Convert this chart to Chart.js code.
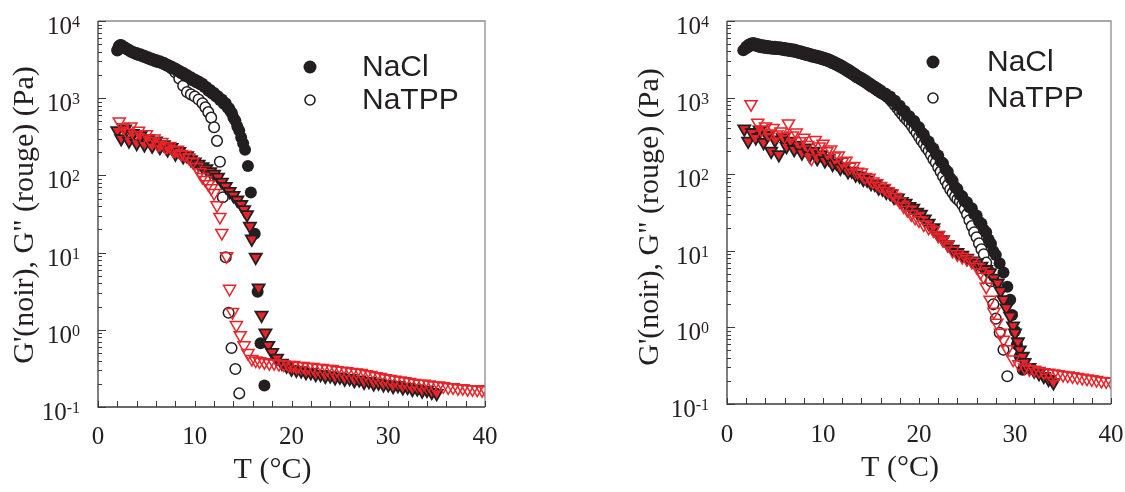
<!DOCTYPE html>
<html><head><meta charset="utf-8">
<script src="https://cdn.jsdelivr.net/npm/chart.js@4.4.1/dist/chart.umd.min.js"></script>
<style>
html,body{margin:0;padding:0;background:#fff;}
#wrap{position:relative;width:1125px;height:492px;overflow:hidden;}
#c1{position:absolute;left:0;top:0;}
#c2{position:absolute;left:560px;top:0;}
</style></head><body>
<div id="wrap"><canvas id="c1" width="560" height="492"></canvas><canvas id="c2" width="565" height="492"></canvas></div>
<script>
// ---------- tick labels ----------
const xTickLabels = [0, 10, 20, 30, 40];
const yTickExps = ['-1', '0', '1', '2', '3', '4'];
const legendLabels = ['NaCl', 'NaTPP'];
const xTitle = 'T (°C)';
const yTitle = 'G\'(noir), G" (rouge) (Pa)';

// ---------- LEFT PANEL ----------
const leftNaClGpT = [2.0,2.15,2.3,2.45,2.6,2.8,3.0,3.2,3.4,3.6,3.8,4.0,4.2,4.4,4.6,4.8,5.0,5.2,5.4,5.6,5.8,6.0,6.2,6.4,6.6,6.8,7.0,7.2,7.4,7.6,7.8,8.0,8.2,8.4,8.6,8.8,9.0,9.2,9.4,9.6,9.8,10.0,10.2,10.4,10.6,10.8,11.0,11.2,11.4,11.6,11.8,12.0,12.2,12.4,12.6,12.8,13.0,13.2,13.4,13.55,13.7,13.85,14.0,14.2,14.4,14.6,14.8,15.0,15.2,15.5,15.8,16.2,16.5,16.8,17.2];
const leftNaClGp = [4200,4700,4900,4850,4600,4550,4300,4250,4000,4000,3800,3850,3650,3700,3500,3550,3350,3400,3200,3250,3050,3120,2950,3000,2850,2880,2700,2720,2550,2570,2400,2420,2250,2270,2100,2130,1950,2000,1850,1870,1700,1750,1600,1640,1500,1540,1400,1400,1250,1280,1150,1170,1050,1060,950,960,850,860,750,740,680,640,560,510,430,380,310,260,215,132,60,17.5,3.1,0.67,0.19];

const leftNaTPPGpT = [2.0,2.4,2.8,3.2,3.6,4.0,4.4,4.8,5.2,5.6,6.0,6.4,6.8,7.2,7.6,8.0,8.4,8.8,9.2,9.6,10.0,10.4,10.8,11.1,11.4,11.7,12.0,12.3,12.6,12.9,13.2,13.5,13.8,14.2,14.6];
const leftNaTPPGp = [4150,4750,4400,4150,3900,3700,3580,3420,3280,3120,3000,2900,2780,2620,2420,2150,1800,1450,1200,1120,1050,960,860,760,660,560,420,280,150,52,8.7,1.66,0.58,0.31,0.15];

const leftNaClGppT = [2.0,2.4,2.8,3.2,3.6,4.0,4.4,4.8,5.2,5.6,6.0,6.4,6.8,7.2,7.6,8.0,8.4,8.8,9.2,9.6,10.0,10.4,10.8,11.2,11.6,12.0,12.4,12.8,13.2,13.6,14.0,14.4,14.8,15.1,15.4,15.7,15.9,16.3,16.6,16.9,17.3,17.6,18.0,18.5,19.0,19.5,20.0,20.5,21.0,21.5,22.0,22.5,23.0,23.5,24.0,24.5,25.0,25.5,26.0,26.5,27.0,27.5,28.0,28.5,29.0,29.5,30.0,30.5,31.0,31.5,32.0,32.5,33.0,33.5,34.0,34.5,35.0];
const leftNaClGpp = [380,300,400,280,350,260,330,250,300,240,280,230,250,215,230,190,205,175,180,160,150,140,130,122,112,104,95,82,72,62,55,48,42,36,31,22,15,8.7,3.5,1.55,0.91,0.63,0.51,0.43,0.37,0.34,0.31,0.30,0.295,0.28,0.28,0.265,0.265,0.25,0.255,0.24,0.245,0.23,0.235,0.22,0.225,0.21,0.215,0.2,0.205,0.195,0.195,0.185,0.19,0.178,0.18,0.17,0.172,0.162,0.165,0.155,0.15];

const leftNaTPPGppT = [2.2,2.6,3.0,3.4,3.8,4.2,4.6,5.0,5.4,5.8,6.2,6.6,7.0,7.4,7.8,8.2,8.6,9.0,9.4,9.8,10.2,10.5,10.8,11.1,11.4,11.7,12.0,12.3,12.6,12.8,13.3,13.6,13.9,14.3,14.7,15.1,15.5,15.9,16.3,16.7,17.2,17.7,18.2,18.7,19.2,19.7,20.2,20.7,21.2,21.7,22.2,22.7,23.2,23.7,24.2,24.7,25.2,25.7,26.2,26.7,27.2,27.7,28.2,28.7,29.2,29.7,30.2,30.7,31.2,31.7,32.2,32.7,33.2,33.7,34.2,34.7,35.2,35.7,36.2,36.7,37.2,37.7,38.2,38.7,39.2,39.7,40.0];
const leftNaTPPGpp = [500,420,360,430,330,380,300,340,280,300,250,270,230,240,210,215,190,185,170,150,128,110,95,87,77,68,59,41,29,18,9.0,3.4,1.7,1.15,0.85,0.63,0.5,0.42,0.40,0.39,0.38,0.37,0.37,0.36,0.355,0.35,0.35,0.34,0.34,0.33,0.33,0.32,0.32,0.31,0.31,0.30,0.295,0.29,0.285,0.28,0.275,0.265,0.26,0.25,0.245,0.235,0.23,0.225,0.22,0.215,0.21,0.205,0.2,0.2,0.195,0.19,0.19,0.185,0.18,0.18,0.175,0.175,0.17,0.17,0.168,0.165,0.17];

// ---------- RIGHT PANEL ----------
const rightNaClGpT = [1.7,2.0,2.25,2.5,2.75,3.0,3.25,3.5,3.75,4.0,4.25,4.5,4.75,5.0,5.25,5.5,5.75,6.0,6.25,6.5,6.75,7.0,7.25,7.5,7.75,8.0,8.25,8.5,8.75,9.0,9.25,9.5,9.75,10.0,10.25,10.5,10.75,11.0,11.25,11.5,11.75,12.0,12.25,12.5,12.75,13.0,13.25,13.5,13.75,14.0,14.25,14.5,14.75,15.0,15.25,15.5,15.75,16.0,16.25,16.5,16.75,17.0,17.25,17.5,17.75,18.0,18.25,18.5,18.75,19.0,19.25,19.5,19.75,20.0,20.25,20.5,20.75,21.0,21.25,21.5,21.75,22.0,22.25,22.5,22.75,23.0,23.25,23.5,23.75,24.0,24.25,24.5,24.75,25.0,25.25,25.5,25.75,26.0,26.25,26.5,26.75,27.0,27.25,27.5,27.75,28.0,28.4,28.8,29.2,29.5,29.7,30.0,30.2,30.5,30.8];
const rightNaClGp = [4150,4600,4600,5100,4850,5050,4650,4850,4500,4750,4400,4650,4350,4600,4300,4550,4200,4450,4120,4330,4020,4230,3900,4070,3750,3920,3600,3760,3460,3610,3350,3500,3220,3350,3080,3190,2910,2990,2720,2780,2520,2580,2330,2370,2130,2160,1940,1960,1770,1800,1620,1650,1470,1490,1340,1360,1220,1240,1110,1130,1020,1030,910,910,795,785,680,670,580,570,500,495,425,410,350,330,280,268,228,216,184,175,147,139,116,108,89,82,68,64,54,51.5,44.5,43,37,36,30,29,24,22.7,18.9,17.5,14,12.4,9.9,8.8,6.9,5.2,3.4,2.3,1.45,0.9,0.6,0.42,0.28];

const rightNaTPPGpT = [2.0,2.25,2.5,2.75,3.0,3.25,3.5,3.75,4.0,4.25,4.5,4.75,5.0,5.25,5.5,5.75,6.0,6.25,6.5,6.75,7.0,7.25,7.5,7.75,8.0,8.25,8.5,8.75,9.0,9.25,9.5,9.75,10.0,10.25,10.5,10.75,11.0,11.25,11.5,11.75,12.0,12.25,12.5,12.75,13.0,13.25,13.5,13.75,14.0,14.25,14.5,14.75,15.0,15.25,15.5,15.75,16.0,16.25,16.5,16.75,17.0,17.25,17.5,17.75,18.0,18.25,18.5,18.75,19.0,19.25,19.5,19.75,20.0,20.25,20.5,20.75,21.0,21.25,21.5,21.75,22.0,22.25,22.5,22.75,23.0,23.25,23.5,23.75,24.0,24.25,24.5,24.75,25.0,25.25,25.5,25.75,26.0,26.25,26.5,26.75,27.0,27.25,27.5,27.75,28.0,28.4,28.8,29.2];
const rightNaTPPGp = [4400,4900,4800,5150,4750,4950,4560,4800,4460,4700,4370,4610,4320,4550,4270,4480,4170,4380,4070,4270,3980,4140,3830,3990,3690,3830,3540,3680,3400,3550,3300,3420,3150,3270,3010,3090,2810,2880,2620,2680,2430,2470,2230,2270,2040,2060,1840,1870,1700,1720,1550,1560,1400,1420,1280,1290,1160,1130,1070,1010,940,870,795,725,660,600,550,510,470,425,385,345,308,275,250,222,202,178,157,142,123,108,94,82,72,63,57,51,47,44,40,35,30,25,21,17.5,15,12.5,10.5,9.0,7.0,5.5,4.0,2.0,1.3,0.85,0.51,0.23];

const rightNaClGppT = [1.8,2.2,2.6,3.0,3.4,3.8,4.2,4.6,5.0,5.4,5.8,6.2,6.6,7.0,7.4,7.8,8.2,8.6,9.0,9.4,9.8,10.2,10.6,11.0,11.4,11.8,12.2,12.6,13.0,13.4,13.8,14.2,14.6,15.0,15.4,15.8,16.2,16.6,17.0,17.4,17.8,18.2,18.6,19.0,19.4,19.8,20.2,20.6,21.0,21.5,22.0,22.5,23.0,23.5,24.0,24.5,25.0,25.5,26.0,26.5,27.0,27.4,27.8,28.2,28.5,28.8,29.1,29.5,29.8,30.0,30.3,30.5,30.8,31.0,31.5,32.0,32.5,33.0,33.5,34.0];
const rightNaClGpp = [390,270,350,300,380,260,320,200,280,180,300,230,270,210,240,190,220,175,200,160,180,150,160,135,140,120,125,108,110,98,95,86,84,76,74,66,64,58,56,50,49,44,42,38,36,32,30,26,23,20,16,14,12,10.5,9.5,8.8,8.0,7.4,6.9,6.3,5.7,5.2,4.4,3.8,3.0,2.3,1.8,1.4,1.05,0.85,0.65,0.51,0.42,0.35,0.3,0.27,0.25,0.23,0.21,0.19];

const rightNaTPPGppT = [2.5,2.9,3.2,3.6,4.0,4.4,4.8,5.2,5.6,6.0,6.4,6.8,7.2,7.6,8.0,8.4,8.8,9.2,9.6,10.0,10.4,10.8,11.2,11.6,12.0,12.4,12.8,13.2,13.6,14.0,14.4,14.8,15.2,15.6,16.0,16.4,16.8,17.2,17.6,18.0,18.4,18.8,19.2,19.6,20.0,20.5,21.0,21.5,22.0,22.5,23.0,23.5,24.0,24.5,25.0,25.5,26.0,26.4,26.7,27.0,27.4,27.8,28.1,28.5,28.8,29.2,29.8,30.4,31.0,31.5,32.0,32.5,33.0,33.5,34.0,34.5,35.0,35.5,36.0,36.5,37.0,37.5,38.0,38.5,39.0,39.5,40.0];
const rightNaTPPGpp = [820,330,470,380,420,340,400,330,360,310,460,320,350,270,300,240,160,280,230,250,200,210,170,175,145,150,125,128,108,105,92,90,80,76,70,66,60,56,50,44,38,34,30,27,25,22,20,18.5,16,14,12,10,9,8.3,7.8,7.2,6.2,5.2,4.6,3.4,2.3,1.6,1.15,0.85,0.69,0.52,0.38,0.33,0.3,0.285,0.28,0.27,0.26,0.255,0.25,0.245,0.24,0.235,0.23,0.225,0.22,0.215,0.21,0.205,0.2,0.198,0.195];

// ---------- styling ----------
const INK = '#231f20';
const RED = '#e8242a';

function pts(xs, ys) { return xs.map((x, i) => ({ x: x, y: ys[i] })); }

function datasets(p) {
  return [
    { label: 'NaTPP G"', data: pts(p.tppGppT, p.tppGpp), pointStyle: 'triangle', pointRotation: 180,
      pointRadius: 7, pointBackgroundColor: 'rgba(255,255,255,0)', pointBorderColor: RED, pointBorderWidth: 1.5 },
    { label: 'NaCl G"', data: pts(p.clGppT, p.clGpp), pointStyle: 'triangle', pointRotation: 180,
      pointRadius: 7, pointBackgroundColor: RED, pointBorderColor: INK, pointBorderWidth: 1.8 },
    { label: "NaCl G'", data: pts(p.clGpT, p.clGp), pointStyle: 'circle',
      pointRadius: 6, pointBackgroundColor: INK, pointBorderColor: INK, pointBorderWidth: 0 },
    { label: "NaTPP G'", data: pts(p.tppGpT, p.tppGp), pointStyle: 'circle',
      pointRadius: 5.3, pointBackgroundColor: '#ffffff', pointBorderColor: INK, pointBorderWidth: 1.5 }
  ];
}

function panelPlugin(g) {
  return {
    id: 'panelDecor',
    afterDraw(chart) {
      const ctx = chart.ctx, a = chart.chartArea, xs = chart.scales.x, ys = chart.scales.y;
      ctx.save();
      // frame
      ctx.lineWidth = 1.3;
      ctx.strokeStyle = '#8c8c8c';
      ctx.beginPath(); ctx.moveTo(a.left, a.top); ctx.lineTo(a.right, a.top); ctx.lineTo(a.right, a.bottom); ctx.stroke();
      ctx.strokeStyle = '#3a3a3a';
      ctx.beginPath(); ctx.moveTo(a.left, a.top); ctx.lineTo(a.left, a.bottom); ctx.lineTo(a.right, a.bottom); ctx.stroke();
      // y ticks (inward, log minor)
      ctx.lineWidth = 1;
      ctx.strokeStyle = '#3a3a3a';
      for (let k = -1; k <= 4; k++) {
        for (let m = 1; m <= 9; m++) {
          const v = m * Math.pow(10, k);
          if (v > ys.max * 1.0001) break;
          const y = Math.round(ys.getPixelForValue(v)) + 0.5;
          const len = m === 1 ? 8 : 4;
          ctx.beginPath(); ctx.moveTo(a.left, y); ctx.lineTo(a.left + len, y); ctx.stroke();
        }
      }
      // x ticks (inward)
      for (let t = 0; t <= 40; t += 2) {
        const x = Math.round(xs.getPixelForValue(t)) + 0.5;
        ctx.beginPath(); ctx.moveTo(x, a.bottom); ctx.lineTo(x, a.bottom - 6); ctx.stroke();
      }
      ctx.fillStyle = INK;
      // x tick labels
      ctx.font = "25px 'Liberation Serif'";
      ctx.textAlign = 'center'; ctx.textBaseline = 'middle';
      xTickLabels.forEach(t => ctx.fillText(String(t), xs.getPixelForValue(t), a.bottom + g.xLabDy));
      // y tick labels with superscript exponent
      yTickExps.forEach(e => {
        const y = ys.getPixelForValue(Math.pow(10, Number(e)));
        ctx.font = "16px 'Liberation Serif'";
        const ew = ctx.measureText(e).width;
        const right = a.left - 18;
        ctx.textAlign = 'left'; ctx.textBaseline = 'alphabetic';
        ctx.fillText(e, right - ew, y + 6);
        ctx.font = "25px 'Liberation Serif'";
        ctx.textAlign = 'right';
        ctx.fillText('10', right - ew, y + 13);
      });
      // x title
      ctx.font = "30px 'Liberation Serif'";
      ctx.textAlign = 'center'; ctx.textBaseline = 'middle';
      ctx.fillText(xTitle, (a.left + a.right) / 2 - 19, g.xTitleY);
      // y title
      ctx.save();
      ctx.translate(g.yTitleX, g.yTitleY);
      ctx.rotate(-Math.PI / 2);
      ctx.fillText(yTitle, 0, 0);
      ctx.restore();
      // legend
      ctx.beginPath(); ctx.arc(g.legX, g.legY1, 6.5, 0, Math.PI * 2); ctx.fillStyle = INK; ctx.fill();
      ctx.beginPath(); ctx.arc(g.legX, g.legY2, 5, 0, Math.PI * 2); ctx.fillStyle = '#fff'; ctx.fill();
      ctx.lineWidth = 1.6; ctx.strokeStyle = INK; ctx.stroke();
      ctx.fillStyle = INK;
      ctx.font = "30px 'Liberation Sans'";
      ctx.textAlign = 'left'; ctx.textBaseline = 'middle';
      ctx.fillText(legendLabels[0], g.legTX, g.legY1 + 1);
      ctx.fillText(legendLabels[1], g.legTX, g.legY2 + 1);
      ctx.restore();
    }
  };
}

function makeChart(id, p, g) {
  return new Chart(document.getElementById(id), {
    type: 'scatter',
    data: { datasets: datasets(p) },
    options: {
      responsive: false, animation: false, events: [],
      layout: { padding: g.pad },
      scales: {
        x: { type: 'linear', min: 0, max: 40, display: false },
        y: { type: 'logarithmic', min: 0.1, max: 10000, display: false }
      },
      plugins: { legend: { display: false }, tooltip: { enabled: false } }
    },
    plugins: [panelPlugin(g)]
  });
}

makeChart('c1', {
  clGpT: leftNaClGpT, clGp: leftNaClGp, tppGpT: leftNaTPPGpT, tppGp: leftNaTPPGp,
  clGppT: leftNaClGppT, clGpp: leftNaClGpp, tppGppT: leftNaTPPGppT, tppGpp: leftNaTPPGpp
}, { pad: { left: 98, right: 75, top: 21, bottom: 85 }, xLabDy: 30, xTitleY: 470,
     yTitleX: 25, yTitleY: 215, legX: 310, legY1: 67, legY2: 100, legTX: 362 });

makeChart('c2', {
  clGpT: rightNaClGpT, clGp: rightNaClGp, tppGpT: rightNaTPPGpT, tppGp: rightNaTPPGp,
  clGppT: rightNaClGppT, clGpp: rightNaClGpp, tppGppT: rightNaTPPGppT, tppGpp: rightNaTPPGpp
}, { pad: { left: 167, right: 14, top: 21, bottom: 88 }, xLabDy: 31, xTitleY: 468,
     yTitleX: 90, yTitleY: 217, legX: 373, legY1: 62, legY2: 98, legTX: 427 });
</script>
</body></html>
